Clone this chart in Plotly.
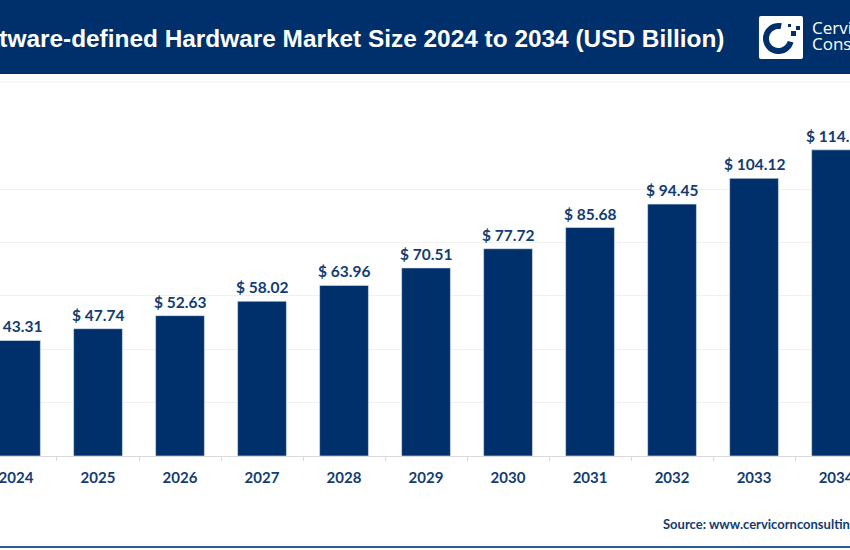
import math
import plotly.graph_objects as go

years = [2024, 2025, 2026, 2027, 2028, 2029, 2030, 2031, 2032, 2033, 2034]
market_size = [43.31, 47.74, 52.63, 58.02, 63.96, 70.51, 77.72, 85.68, 94.45, 104.12, 114.8]
bar_labels = ['$ %.2f' % v for v in market_size]

W, H = 850, 550
NAVY = '#00306b'
TEXT_NAVY = '#123c72'


def px(x):
    return x / W


def py(y):
    return 1 - y / H


def paper_rect(x0, y0, x1, y1, color):
    return dict(type='rect', xref='paper', yref='paper', x0=px(x0), x1=px(x1),
                y0=py(y0), y1=py(y1), fillcolor=color, line_width=0, layer='above')


def logo_ring(cx, cy, r_out, r_in, start, end, n=40):
    # arcs are not allowed in shape paths, so go round with short lines
    pts = []
    for i in range(n + 1):
        a = math.radians(start + (end - start) * i / n)
        pts.append((cx + r_out * math.cos(a), cy - r_out * math.sin(a)))
    for i in range(n, -1, -1):
        a = math.radians(start + (end - start) * i / n)
        pts.append((cx + r_in * math.cos(a), cy - r_in * math.sin(a)))
    return 'M ' + ' L '.join('%.4f,%.4f' % (px(x), py(y)) for x, y in pts) + ' Z'


fig = go.Figure()
fig.add_trace(go.Bar(
    x=years,
    y=market_size,
    width=0.595,
    marker=dict(color=NAVY, line=dict(color='#dfe6ef', width=0.6)),
    cliponaxis=False,
    hoverinfo='skip'
))

shapes = [
    paper_rect(0, 0, 850, 74, NAVY),
    paper_rect(0, 81.5, 850, 82.5, '#f2f2f2'),
    paper_rect(0, 546, 850, 548, '#2f5a8f'),
    dict(type='path', xref='paper', yref='paper', layer='above', line_width=0, fillcolor='white',
         path=' '.join([
             'M', '%.4f,%.4f' % (px(761), py(16)),
             'L', '%.4f,%.4f' % (px(801), py(16)),
             'Q', '%.4f,%.4f' % (px(803), py(16)), '%.4f,%.4f' % (px(803), py(18)),
             'L', '%.4f,%.4f' % (px(803), py(57)),
             'Q', '%.4f,%.4f' % (px(803), py(59)), '%.4f,%.4f' % (px(801), py(59)),
             'L', '%.4f,%.4f' % (px(761), py(59)),
             'Q', '%.4f,%.4f' % (px(759), py(59)), '%.4f,%.4f' % (px(759), py(57)),
             'L', '%.4f,%.4f' % (px(759), py(18)),
             'Q', '%.4f,%.4f' % (px(759), py(16)), '%.4f,%.4f' % (px(761), py(16)),
             'Z'])),
    dict(type='path', xref='paper', yref='paper', layer='above', line_width=0, fillcolor=NAVY,
         path=logo_ring(778.5, 38.5, 15.5, 9.5, 78, 345)),
    paper_rect(791, 31, 796, 36, NAVY),
    paper_rect(796, 26, 800, 30, NAVY),
    paper_rect(788, 24, 791, 27, NAVY),
]

# value labels sit a bit higher than plotly's outside text, so use annotations
annotations = [
    dict(x=yr, y=val, text=lab, xref='x', yref='y', yanchor='bottom', yshift=3, showarrow=False,
         font=dict(family='Lato', size=15.5, color=TEXT_NAVY, weight=700))
    for yr, val, lab in zip(years, market_size, bar_labels)
]
annotations += [
    dict(text='Software-defined Hardware Market Size 2024 to 2034 (USD Billion)',
         xref='paper', yref='paper', x=px(725.5), y=py(38), xanchor='right', yanchor='middle',
         showarrow=False, font=dict(family='Liberation Sans', size=24.4, color='white', weight=700)),
    dict(text='Cervicorn', xref='paper', yref='paper', x=px(810), y=py(28), xanchor='left', yanchor='middle',
         showarrow=False, font=dict(family='Open Sans', size=17, color='white')),
    dict(text='Consulting', xref='paper', yref='paper', x=px(810), y=py(44), xanchor='left', yanchor='middle',
         showarrow=False, font=dict(family='Open Sans', size=17, color='white')),
    dict(text='Source: www.cervicornconsulting.com', xref='paper', yref='paper', x=px(661), y=py(524),
         xanchor='left', yanchor='middle', showarrow=False,
         font=dict(family='Lato', size=13, color=TEXT_NAVY, weight=700)),
]

fig.update_layout(
    width=W,
    height=H,
    margin=dict(l=0, r=0, t=0, b=0, autoexpand=False),
    paper_bgcolor='white',
    plot_bgcolor='white',
    showlegend=False,
    shapes=shapes,
    xaxis=dict(
        range=[2023.805, 2034.17],
        tickmode='array',
        tickvals=years,
        ticktext=[str(y) for y in years],
        ticks='',
        ticklabeloverflow='allow',
        ticklabelstandoff=8,
        showgrid=False,
        showline=True,
        linecolor='#d9d9d9',
        linewidth=1,
        zeroline=False,
        automargin=False,
        tickfont=dict(family='Lato', size=15, color=TEXT_NAVY, weight=700),
        minor=dict(tick0=2023.5, dtick=1, ticks='outside', ticklen=4, tickcolor='#d9d9d9', showgrid=False),
    ),
    yaxis=dict(
        range=[0, 120.1],
        dtick=20,
        domain=[1 - 456 / H, 1 - 135.7 / H],
        showticklabels=False,
        gridcolor='#f0f0f0',
        gridwidth=1,
        zeroline=False,
        automargin=False,
    ),
    annotations=annotations,
)

# body margin would push the whole figure 8px in
post = ("document.documentElement.style.overflow='hidden';"
        "document.body.style.margin='0';document.body.style.overflow='hidden';")
fig.write_html("out.html", config=dict(displayModeBar=False, responsive=False),
               default_width='850px', default_height='550px', post_script=post)
